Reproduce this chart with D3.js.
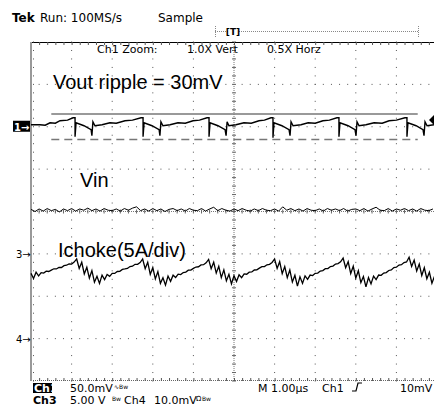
<!DOCTYPE html>
<html>
<head>
<meta charset="utf-8">
<script src="https://cdn.jsdelivr.net/npm/d3@7"></script>
<style>
  body { margin: 0; background: #fff; }
  svg { display: block; }
  text { font-family: "DejaVu Sans", sans-serif; fill: #000; }
  .big { font-family: "Liberation Sans", Arial, sans-serif; font-size: 20px; }
</style>
</head>
<body>
<svg id="scope" width="434" height="409"></svg>
<script>
// ---- data ----
// Ch1 (Vout), time in us, value in mV (50mV/div, marker at +2 div)
const voutT = [0, 0.44, 0.7, 0.94, 1.2, 1.43, 1.8, 2.07,
  2.17, 2.17, 2.22, 2.61, 2.96, 3.00, 3.05, 3.15, 3.5, 3.89, 4.2, 4.63, 5.0, 5.42,
  5.52, 5.52, 5.57, 5.96, 6.31, 6.35, 6.40, 6.50, 6.85, 7.24, 7.6, 7.98, 8.3, 8.67,
  8.77, 8.77, 8.82, 9.21, 9.56, 9.61, 9.66, 9.75, 10.1, 10.49, 10.85, 11.23, 11.5, 11.82,
  11.92, 11.92, 11.97, 12.36, 12.71, 12.76, 12.81, 12.91, 13.3, 13.65, 14.0, 14.38, 14.7, 15.07,
  15.17, 15.17, 15.22, 15.62, 15.96, 16.01, 16.06, 16.16, 16.5, 16.9, 17.3, 17.64, 18.0, 18.42,
  18.52, 18.52, 18.57, 18.97, 19.31, 19.36, 19.41, 19.51, 19.85];
const voutMV = [2.4, 2.4, 1.8, 4.7, 4.2, 7.1, 7.8, 10.6,
  10.6, -11.8, 4.7, 1.2, -3.5, -10.6, 5.9, 1.2, 2.4, 4.7, 4.2, 7.1, 7.8, 10.6,
  10.6, -11.8, 4.7, 1.2, -3.5, -10.6, 5.9, 1.2, 2.4, 4.7, 4.2, 7.1, 7.8, 10.6,
  10.6, -11.8, 4.7, 1.2, -3.5, -10.6, 5.9, 1.2, 2.4, 4.7, 4.2, 7.1, 7.8, 10.6,
  10.6, -13.0, 4.7, 1.2, -3.5, -10.6, 5.9, 1.2, 2.4, 4.7, 4.2, 7.1, 7.8, 10.6,
  10.6, -11.8, 4.7, 1.2, -3.5, -10.6, 5.9, 1.2, 2.4, 4.7, 4.2, 7.1, 7.8, 10.6,
  10.6, -11.8, 4.7, 1.2, -3.5, -10.6, 5.9, 1.2, 2.4];
// ripple cursors (mV) and their time span (us)
const cursorMV = [15, -15];
const cursorSpan = [1.0, 19.05];

// Vin, one sample every 0.2us, mV at 10mV/div around screen centre
const vinStep = 0.2;
const vinMV = [0.5,0.0,0.6,0.1,0.7,0.2,0.5,-0.1,0.6,0.2,
  0.7,0.1,0.6,0.3,0.8,0.2,0.6,0.1,0.7,0.3,
  0.2,0.6,0.1,0.7,0.3,0.8,1.1,0.2,0.6,0.1,
  0.7,0.2,0.6,0.0,0.5,0.7,0.2,0.6,0.1,0.7,
  0.3,0.2,0.7,0.1,0.6,1.0,0.2,0.7,0.3,0.1,
  0.6,0.2,0.7,0.3,0.1,0.6,0.2,0.7,0.3,0.2,
  0.6,0.1,1.1,0.3,0.7,0.2,0.6,0.1,0.7,0.3,
  0.2,0.6,0.1,0.7,0.3,0.6,0.2,0.7,0.1,0.5,
  0.6,0.2,0.7,0.1,0.6,1.0,0.3,0.2,0.7,0.1,
  0.6,0.3,0.7,0.2,0.6,0.1,0.7,0.3,0.2,0.6];

// Ichoke (Ch3), one sample every 0.125us, A at 5A/div relative to the ch3 marker
const ichokeStep = 0.125;
const ichokeA = [
  -2.30,-2.90,-2.16,-2.61,-2.21,-2.27,-2.04,-2.08,-1.92,-1.76,-1.78,-1.59,-1.61,-1.39,-1.34,-1.18,-1.20,-0.97,-0.60,
  -1.72,-0.99,-2.36,-1.58,-2.85,-1.97,-3.34,-2.65,
  -3.48,-2.51,-3.04,-2.42,-2.65,-2.30,-2.31,-2.08,-2.06,-1.83,-1.78,-1.72,-1.49,-1.45,-1.23,-1.23,-1.02,-0.60,
  -1.74,-0.98,-2.42,-1.61,-2.95,-2.09,-3.48,-2.82,
  -3.69,-2.62,-3.24,-2.51,-2.78,-2.40,-2.44,-2.20,-2.15,-1.92,-1.91,-1.71,-1.55,-1.52,-1.30,-1.28,-1.05,-0.65,
  -1.74,-0.98,-2.27,-1.46,-2.80,-1.89,-3.18,-2.42,-3.55,
  -2.57,-3.25,-2.47,-2.80,-2.37,-2.40,-2.16,-2.13,-1.90,-1.88,-1.68,-1.51,-1.50,-1.29,-1.23,-1.01,-0.60,
  -1.71,-0.92,-2.33,-1.49,-2.80,-1.91,-3.32,-2.53,-3.80,
  -2.71,-3.48,-2.59,-3.01,-2.50,-2.56,-2.30,-2.26,-2.02,-1.97,-1.75,-1.73,-1.49,-1.44,-1.20,-1.15,-0.94,-0.50,
  -1.64,-0.93,-2.32,-1.46,-2.85,-1.99,-3.38,-2.67,-3.90,
  -2.79,-3.54,-2.63,-3.03,-2.50,-2.53,-2.26,-2.21,-1.96,-1.89,-1.61,-1.57,-1.32,-1.28,-1.02,-0.96,-0.40,
  -1.49,-0.73,-2.02,-1.21,-2.55,-1.64,-2.93,-2.17,-3.46,-2.65,-3.70];

const traceLabels = [
  { text: "Vout ripple = 30mV", x: 53, y: 89 },
  { text: "Vin", x: 80, y: 187 },
  { text: "Ichoke(5A/div)", x: 58, y: 257 }
];

// ---- scales ----
const svg = d3.select("#scope");
const x = d3.scaleLinear().domain([0, 20]).range([31, 437]);   // 2us/div
const yDiv = d3.scaleLinear().domain([-4, 4]).range([381, 42]);
const yCh1 = v => yDiv(2 + v / 50);
const yVin = v => yDiv(v / 10);
const yCh3 = v => yDiv(-1 + v / 5);

// ---- graticule ----
const grid = svg.append("g").attr("class", "grid");
const xMinor = d3.range(0, 20.01, 0.4);
const yMinor = d3.range(-4, 4.01, 0.2);

// dotted division lines
d3.range(1, 10).filter(d => d !== 5).forEach(j => {
  grid.selectAll(null).data(yMinor).enter().append("rect")
    .attr("x", x(j * 2) - 0.5).attr("y", d => yDiv(d) - 0.5)
    .attr("width", 1).attr("height", 1).attr("fill", "#555");
});
d3.range(-3, 4).filter(d => d !== 0).forEach(i => {
  grid.selectAll(null).data(xMinor).enter().append("rect")
    .attr("x", d => x(d) - 0.5).attr("y", yDiv(i) - 0.5)
    .attr("width", 1).attr("height", 1).attr("fill", "#555");
});

// centre cross with ticks
grid.append("line").attr("x1", x(10)).attr("x2", x(10)).attr("y1", 42).attr("y2", 381)
  .attr("stroke", "#777").attr("stroke-dasharray", "1,1");
grid.append("line").attr("x1", 31).attr("x2", 434).attr("y1", yDiv(0)).attr("y2", yDiv(0))
  .attr("stroke", "#777").attr("stroke-dasharray", "1,1");
grid.selectAll(null).data(yMinor).enter().append("line")
  .attr("x1", x(10) - 2).attr("x2", x(10) + 2)
  .attr("y1", d => yDiv(d)).attr("y2", d => yDiv(d)).attr("stroke", "#666");
grid.selectAll(null).data(xMinor).enter().append("line")
  .attr("x1", d => x(d)).attr("x2", d => x(d))
  .attr("y1", yDiv(0) - 2).attr("y2", yDiv(0) + 2).attr("stroke", "#666");

// frame: top solid with ticks, bottom dotted with ticks, left grey bar
grid.append("line").attr("x1", 31).attr("x2", 434).attr("y1", 42.5).attr("y2", 42.5)
  .attr("stroke", "#000");
grid.selectAll(null).data(xMinor).enter().append("line")
  .attr("x1", d => x(d) + 0.5).attr("x2", d => x(d) + 0.5)
  .attr("y1", 42).attr("y2", 45).attr("stroke", "#555");
grid.append("line").attr("x1", 31).attr("x2", 434).attr("y1", 380.5).attr("y2", 380.5)
  .attr("stroke", "#666").attr("stroke-dasharray", "1,1");
grid.selectAll(null).data(xMinor).enter().append("line")
  .attr("x1", d => x(d) + 0.5).attr("x2", d => x(d) + 0.5)
  .attr("y1", 378).attr("y2", 381).attr("stroke", "#555");
grid.append("line").attr("x1", 31).attr("x2", 31).attr("y1", 42).attr("y2", 381)
  .attr("stroke", "#999").attr("stroke-width", 2);
grid.selectAll(null).data(yMinor).enter().append("rect")
  .attr("x", 33).attr("y", d => yDiv(d) - 0.5).attr("width", 1).attr("height", 1)
  .attr("fill", "#555");

// ---- ripple cursors ----
svg.append("line").attr("x1", x(cursorSpan[0])).attr("x2", x(cursorSpan[1]))
  .attr("y1", yCh1(cursorMV[0])).attr("y2", yCh1(cursorMV[0]))
  .attr("stroke", "#777").attr("stroke-width", 1.5);
svg.append("line").attr("x1", x(cursorSpan[0])).attr("x2", x(cursorSpan[1]))
  .attr("y1", yCh1(cursorMV[1])).attr("y2", yCh1(cursorMV[1]))
  .attr("stroke", "#777").attr("stroke-width", 1.5).attr("stroke-dasharray", "8,5");

// ---- traces ----
const vout = voutT.map((t, i) => [t, voutMV[i]]);
const vin = vinMV.map((v, i) => [i * vinStep, v]);
const ich = ichokeA.map((v, i) => [i * ichokeStep, v]);

svg.append("path").datum(vout)
  .attr("d", d3.line().x(d => x(d[0])).y(d => yCh1(d[1])))
  .attr("fill", "none").attr("stroke", "#000").attr("stroke-width", 1.4);
svg.append("path").datum(vin)
  .attr("d", d3.line().x(d => x(d[0])).y(d => yVin(d[1])))
  .attr("fill", "none").attr("stroke", "#000").attr("stroke-width", 1);
svg.append("path").datum(ich)
  .attr("d", d3.line().x(d => x(d[0])).y(d => yCh3(d[1])))
  .attr("fill", "none").attr("stroke", "#000").attr("stroke-width", 1.3);

// ---- labels on the traces ----
svg.selectAll(".big").data(traceLabels).enter().append("text")
  .attr("class", "big").attr("x", d => d.x).attr("y", d => d.y).text(d => d.text);

// ---- channel markers ----
svg.append("rect").attr("x", 13).attr("y", yCh1(0) - 6).attr("width", 17).attr("height", 11)
  .attr("fill", "#000");
svg.append("text").attr("x", 14).attr("y", yCh1(0) + 4).attr("font-size", 10)
  .attr("font-weight", "bold").style("fill", "#fff").text("1→");
svg.append("text").attr("x", 16).attr("y", yCh3(0) + 4).attr("font-size", 10).text("3→");
svg.append("text").attr("x", 16).attr("y", yDiv(-3) + 4).attr("font-size", 10).text("4→");
// trigger level
svg.append("path").attr("d", `M429,${yCh1(8)}L434,${yCh1(8) - 5}L434,${yCh1(8) + 5}Z`)
  .attr("fill", "#000");

// ---- status lines ----
svg.append("text").attr("x", 12).attr("y", 22).attr("font-size", 12)
  .attr("font-weight", "bold").text("Tek");
svg.append("text").attr("x", 40).attr("y", 22).attr("font-size", 12).text("Run: 100MS/s");
svg.append("text").attr("x", 158).attr("y", 22).attr("font-size", 12).text("Sample");

svg.append("line").attr("x1", 215).attr("x2", 418).attr("y1", 31.5).attr("y2", 31.5)
  .attr("stroke", "#888").attr("stroke-dasharray", "1,1");
[215, 418].forEach(px => svg.append("line").attr("x1", px + 0.5).attr("x2", px + 0.5)
  .attr("y1", 26).attr("y2", 37).attr("stroke", "#888").attr("stroke-dasharray", "1,1"));
svg.append("rect").attr("x", 228).attr("y", 27).attr("width", 10).attr("height", 9).attr("fill", "#fff");
svg.append("text").attr("x", 233).attr("y", 35).attr("font-size", 9).attr("font-weight", "bold")
  .attr("text-anchor", "middle").text("[T]");

svg.append("text").attr("x", 97).attr("y", 53).attr("font-size", 11).text("Ch1 Zoom:");
svg.append("text").attr("x", 187).attr("y", 53).attr("font-size", 11).text("1.0X Vert");
svg.append("text").attr("x", 267).attr("y", 53).attr("font-size", 11).text("0.5X Horz");

// bottom readout
svg.append("rect").attr("x", 33).attr("y", 383).attr("width", 19).attr("height", 10).attr("fill", "#000");
svg.append("text").attr("x", 34).attr("y", 392).attr("font-size", 11).attr("font-weight", "bold")
  .style("fill", "#fff").text("Ch1");
svg.append("text").attr("x", 70).attr("y", 392).attr("font-size", 11).text("50.0mV");
svg.append("text").attr("x", 114).attr("y", 389).attr("font-size", 6).text("∿Bw");
svg.append("text").attr("x", 258).attr("y", 392).attr("font-size", 11).text("M 1.00µs");
svg.append("text").attr("x", 322).attr("y", 392).attr("font-size", 11).text("Ch1");
svg.append("path").attr("d", "M352,391 L356,391 L358,383 L362,383")
  .attr("fill", "none").attr("stroke", "#000").attr("stroke-width", 1.2);
svg.append("text").attr("x", 400).attr("y", 392).attr("font-size", 11).text("10mV");

svg.append("text").attr("x", 33).attr("y", 404).attr("font-size", 11).attr("font-weight", "bold").text("Ch3");
svg.append("text").attr("x", 70).attr("y", 404).attr("font-size", 11).text("5.00 V");
svg.append("text").attr("x", 112).attr("y", 401).attr("font-size", 6).text("Bw");
svg.append("text").attr("x", 124).attr("y", 404).attr("font-size", 11).text("Ch4");
svg.append("text").attr("x", 154).attr("y", 404).attr("font-size", 11).text("10.0mV");
svg.append("text").attr("x", 196).attr("y", 401).attr("font-size", 7).text("Ω");
svg.append("text").attr("x", 202).attr("y", 401).attr("font-size", 6).text("Bw");
</script>
</body>
</html>
